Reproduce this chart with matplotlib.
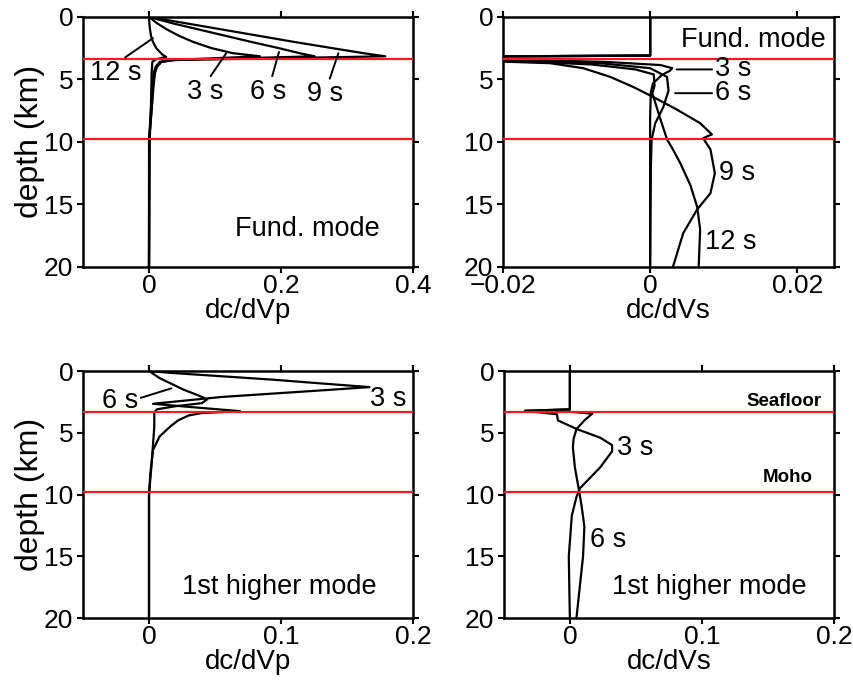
import numpy as np
import matplotlib.pyplot as plt

plt.rcParams['font.family'] = ['Liberation Sans', 'DejaVu Sans']

# --- layer boundaries (km) ---
seafloor = 3.35
moho = 9.8

# --- dc/dVp, fundamental mode ---
vp0_3s_z = [0, 0.5, 1, 1.5, 2, 2.5, 2.9, 3.15, 3.45, 3.6, 4.0, 4.5, 5.5, 7.4, 9, 10, 20]
vp0_3s_c = [0, 0.012, 0.027, 0.045, 0.067, 0.095, 0.127, 0.168, 0.034, 0.016, 0.01, 0.007, 0.005, 0.003, 0.001, 0, 0]
vp0_6s_z = [0, 0.5, 1, 1.5, 2, 2.5, 2.9, 3.15, 3.45, 3.6, 4.0, 4.5, 5.5, 7.4, 9, 10, 20]
vp0_6s_c = [0, 0.035, 0.075, 0.115, 0.155, 0.197, 0.228, 0.251, 0.036, 0.018, 0.011, 0.008, 0.006, 0.004, 0.0015, 0.0003, 0]
vp0_9s_z = [0, 0.5, 1, 1.5, 2, 2.5, 2.9, 3.15, 3.45, 3.6, 4.0, 4.5, 5.5, 7.4, 9, 10, 20]
vp0_9s_c = [0, 0.055, 0.11, 0.165, 0.22, 0.278, 0.325, 0.358, 0.038, 0.019, 0.012, 0.009, 0.007, 0.004, 0.0015, 0.0003, 0]
vp0_12s_z = [0, 0.5, 1.0, 1.5, 2.0, 2.5, 3.0, 3.2, 3.4, 3.6, 4.5, 7.0, 10, 20]
vp0_12s_c = [0, 0.0005, 0.0015, 0.003, 0.006, 0.011, 0.02, 0.026, 0.01, 0.005, 0.004, 0.003, 0.001, 0]

# --- dc/dVs, fundamental mode ---
vs0_3s_z = [0, 3.1, 3.2, 3.4, 3.6, 3.85, 4.1, 4.3, 4.65, 5.3, 6.0, 8, 12, 20]
vs0_3s_c = [0, 0, -0.04, -0.02, -0.006, 0.0014, 0.003, 0.0027, 0.0016, 0.0004, 0.0001, 0, 0, 0]
vs0_6s_z = [0, 3.1, 3.2, 3.45, 3.7, 4.1, 4.8, 5.9, 7.2, 8.5, 9.8, 12, 20]
vs0_6s_c = [0, 0, -0.04, -0.02, -0.0068, 0, 0.0023, 0.0025, 0.0018, 0.0007, 0.0002, 0.0001, 0]
vs0_9s_z = [0, 3.1, 3.2, 3.57, 3.7, 4.1, 4.8, 5.6, 6.4, 7.4, 8.5, 9.4, 9.7, 10.6, 12.5, 14.1, 15.4, 17.3, 20]
vs0_9s_c = [0, 0, -0.04, -0.0204, -0.0136, -0.0091, -0.0054, -0.0023, 0.0004, 0.0036, 0.0068, 0.0084,
            0.0072, 0.0082, 0.0088, 0.0082, 0.0064, 0.0045, 0.0031]
vs0_12s_z = [0, 3.1, 3.2, 3.5, 3.8, 4.2, 4.6, 5.5, 6.1, 8.0, 9.8, 10.6, 11.7, 13.5, 15.2, 17, 20]
vs0_12s_c = [0, 0, -0.04, -0.02, -0.008, -0.002, 0.0005, 0.0006, 0.0003, 0.0013, 0.0023, 0.0031, 0.0041,
             0.0055, 0.0064, 0.0068, 0.0066]

# --- dc/dVp, 1st higher mode ---
vp1_3s_z = [0, 0.16, 0.7, 1.0, 1.3, 1.5, 2.1, 2.65, 2.9, 3.25, 3.4, 3.6, 4.0, 4.5, 5.3, 6.4, 8.3, 10, 20]
vp1_3s_c = [0, 0.018, 0.094, 0.13, 0.167, 0.14, 0.055, 0.003, 0.03, 0.069, 0.04, 0.03, 0.022, 0.016, 0.008, 0.003, 0.001, 0, 0]
vp1_6s_z = [0, 0.57, 1.5, 2.0, 2.3, 2.6, 2.85, 3.1, 3.35, 3.6, 4.5, 6.0, 7.5, 10, 20]
vp1_6s_c = [0, 0.008, 0.026, 0.038, 0.044, 0.04, 0.02, 0.006, 0.004, 0.004, 0.004, 0.003, 0.002, 0, 0]

# --- dc/dVs, 1st higher mode ---
vs1_3s_z = [0, 3.1, 3.22, 3.5, 4.0, 4.7, 5.4, 6.0, 6.5, 7.8, 9.5, 10.2, 11.7, 15, 17, 20]
vs1_3s_c = [0, 0, -0.034, -0.0098, -0.009, 0.0053, 0.023, 0.032, 0.032, 0.023, 0.0076, 0.005, 0.0015, -0.0008, -0.0005, 0]
vs1_6s_z = [0, 3.1, 3.22, 3.3, 3.45, 4.0, 4.7, 5.5, 6.2, 7.8, 9.7, 11, 12.6, 15, 17.5, 20]
vs1_6s_c = [0, 0, -0.034, 0.0, 0.017, 0.011, 0.005, 0.0028, 0.0023, 0.0038, 0.007, 0.009, 0.011, 0.010, 0.0075, 0.005]

LW = 1.6
RED = '#ee1c25'
FS = 19.5     # annotation text
TFS = 19      # tick labels

fig = plt.figure(figsize=(8.54, 6.88), dpi=100)
ax1 = fig.add_axes([0.0972, 0.612, 0.3864, 0.3634])
ax2 = fig.add_axes([0.589, 0.612, 0.3876, 0.3634])
ax3 = fig.add_axes([0.0972, 0.1017, 0.3864, 0.359])
ax4 = fig.add_axes([0.590, 0.1017, 0.3864, 0.359])


def style(ax, xlim, xticks, xlabel, ylabel=True):
    ax.set_xlim(*xlim)
    ax.set_ylim(20, 0)
    ax.set_xticks(xticks)
    ax.set_xticklabels(['0' if t == 0 else ('%g' % t).replace('-', '\u2212') for t in xticks])
    ax.set_yticks([0, 5, 10, 15, 20])
    ax.tick_params(direction='out', length=4, width=1.5, top=True, right=True, labelsize=TFS)
    ax.tick_params(axis='x', pad=1)
    ax.tick_params(axis='y', pad=3)
    for s in ax.spines.values():
        s.set_linewidth(1.8)
    ax.set_xlabel(xlabel, fontsize=20, labelpad=0)
    if ylabel:
        ax.set_ylabel('depth (km)', fontsize=23, labelpad=-1)
    ax.axhline(seafloor, color=RED, lw=1.6, zorder=3)
    ax.axhline(moho, color=RED, lw=1.6, zorder=3)


lead = dict(arrowstyle='-', color='k', lw=1.4, shrinkA=0, shrinkB=0)

# top-left
for c, z in [(vp0_3s_c, vp0_3s_z), (vp0_6s_c, vp0_6s_z), (vp0_9s_c, vp0_9s_z), (vp0_12s_c, vp0_12s_z)]:
    ax1.plot(c, z, color='k', lw=LW)
style(ax1, (-0.1, 0.4), [0, 0.2, 0.4], 'dc/dVp')
ax1.annotate('3 s', xy=(0.117, 2.9), xytext=(0.085, 6.0), ha='center', va='center', fontsize=FS,
             arrowprops=dict(lead, relpos=(0.6, 1.0)))
ax1.annotate('6 s', xy=(0.197, 2.8), xytext=(0.18, 6.0), ha='center', va='center', fontsize=FS,
             arrowprops=dict(lead, relpos=(0.6, 1.0)))
ax1.annotate('9 s', xy=(0.287, 2.9), xytext=(0.267, 6.2), ha='center', va='center', fontsize=FS,
             arrowprops=dict(lead, relpos=(0.6, 1.0)))
ax1.annotate('12 s', xy=(0.006, 1.7), xytext=(-0.05, 4.5), ha='center', va='center', fontsize=FS,
             arrowprops=dict(lead, relpos=(0.6, 1.0)))
ax1.text(0.24, 17, 'Fund. mode', ha='center', va='center', fontsize=FS)

# top-right
for c, z in [(vs0_3s_c, vs0_3s_z), (vs0_6s_c, vs0_6s_z), (vs0_9s_c, vs0_9s_z), (vs0_12s_c, vs0_12s_z)]:
    ax2.plot(c, z, color='k', lw=LW)
style(ax2, (-0.02, 0.025), [-0.02, 0, 0.02], 'dc/dVs', ylabel=False)
ax2.annotate('3 s', xy=(0.0036, 4.2), xytext=(0.0088, 4.2), ha='left', va='center', fontsize=FS,
             arrowprops=dict(lead, relpos=(0.0, 0.5)))
ax2.annotate('6 s', xy=(0.0034, 6.1), xytext=(0.0088, 6.1), ha='left', va='center', fontsize=FS,
             arrowprops=dict(lead, relpos=(0.0, 0.5)))
ax2.text(0.0118, 12.5, '9 s', ha='center', va='center', fontsize=FS)
ax2.text(0.0109, 18, '12 s', ha='center', va='center', fontsize=FS)
ax2.text(0.014, 1.85, 'Fund. mode', ha='center', va='center', fontsize=FS)

# bottom-left
for c, z in [(vp1_3s_c, vp1_3s_z), (vp1_6s_c, vp1_6s_z)]:
    ax3.plot(c, z, color='k', lw=LW)
style(ax3, (-0.05, 0.2), [0, 0.1, 0.2], 'dc/dVp')
ax3.annotate('6 s', xy=(0.017, 1.4), xytext=(-0.022, 2.45), ha='center', va='center', fontsize=FS,
             arrowprops=dict(lead, relpos=(1.0, 0.6)))
ax3.text(0.181, 2.3, '3 s', ha='center', va='center', fontsize=FS)
ax3.text(0.099, 17.5, '1st higher mode', ha='center', va='center', fontsize=FS)

# bottom-right
for c, z in [(vs1_3s_c, vs1_3s_z), (vs1_6s_c, vs1_6s_z)]:
    ax4.plot(c, z, color='k', lw=LW)
style(ax4, (-0.05, 0.2), [0, 0.1, 0.2], 'dc/dVs', ylabel=False)
ax4.text(0.036, 6.2, '3 s', ha='left', va='center', fontsize=FS)
ax4.text(0.015, 13.7, '6 s', ha='left', va='center', fontsize=FS)
ax4.text(0.191, 2.5, 'Seafloor', ha='right', va='center', fontsize=13.5, fontweight='bold')
ax4.text(0.184, 8.6, 'Moho', ha='right', va='center', fontsize=13.5, fontweight='bold')
ax4.text(0.106, 17.5, '1st higher mode', ha='center', va='center', fontsize=FS)

fig.savefig('out.png', dpi=100)
